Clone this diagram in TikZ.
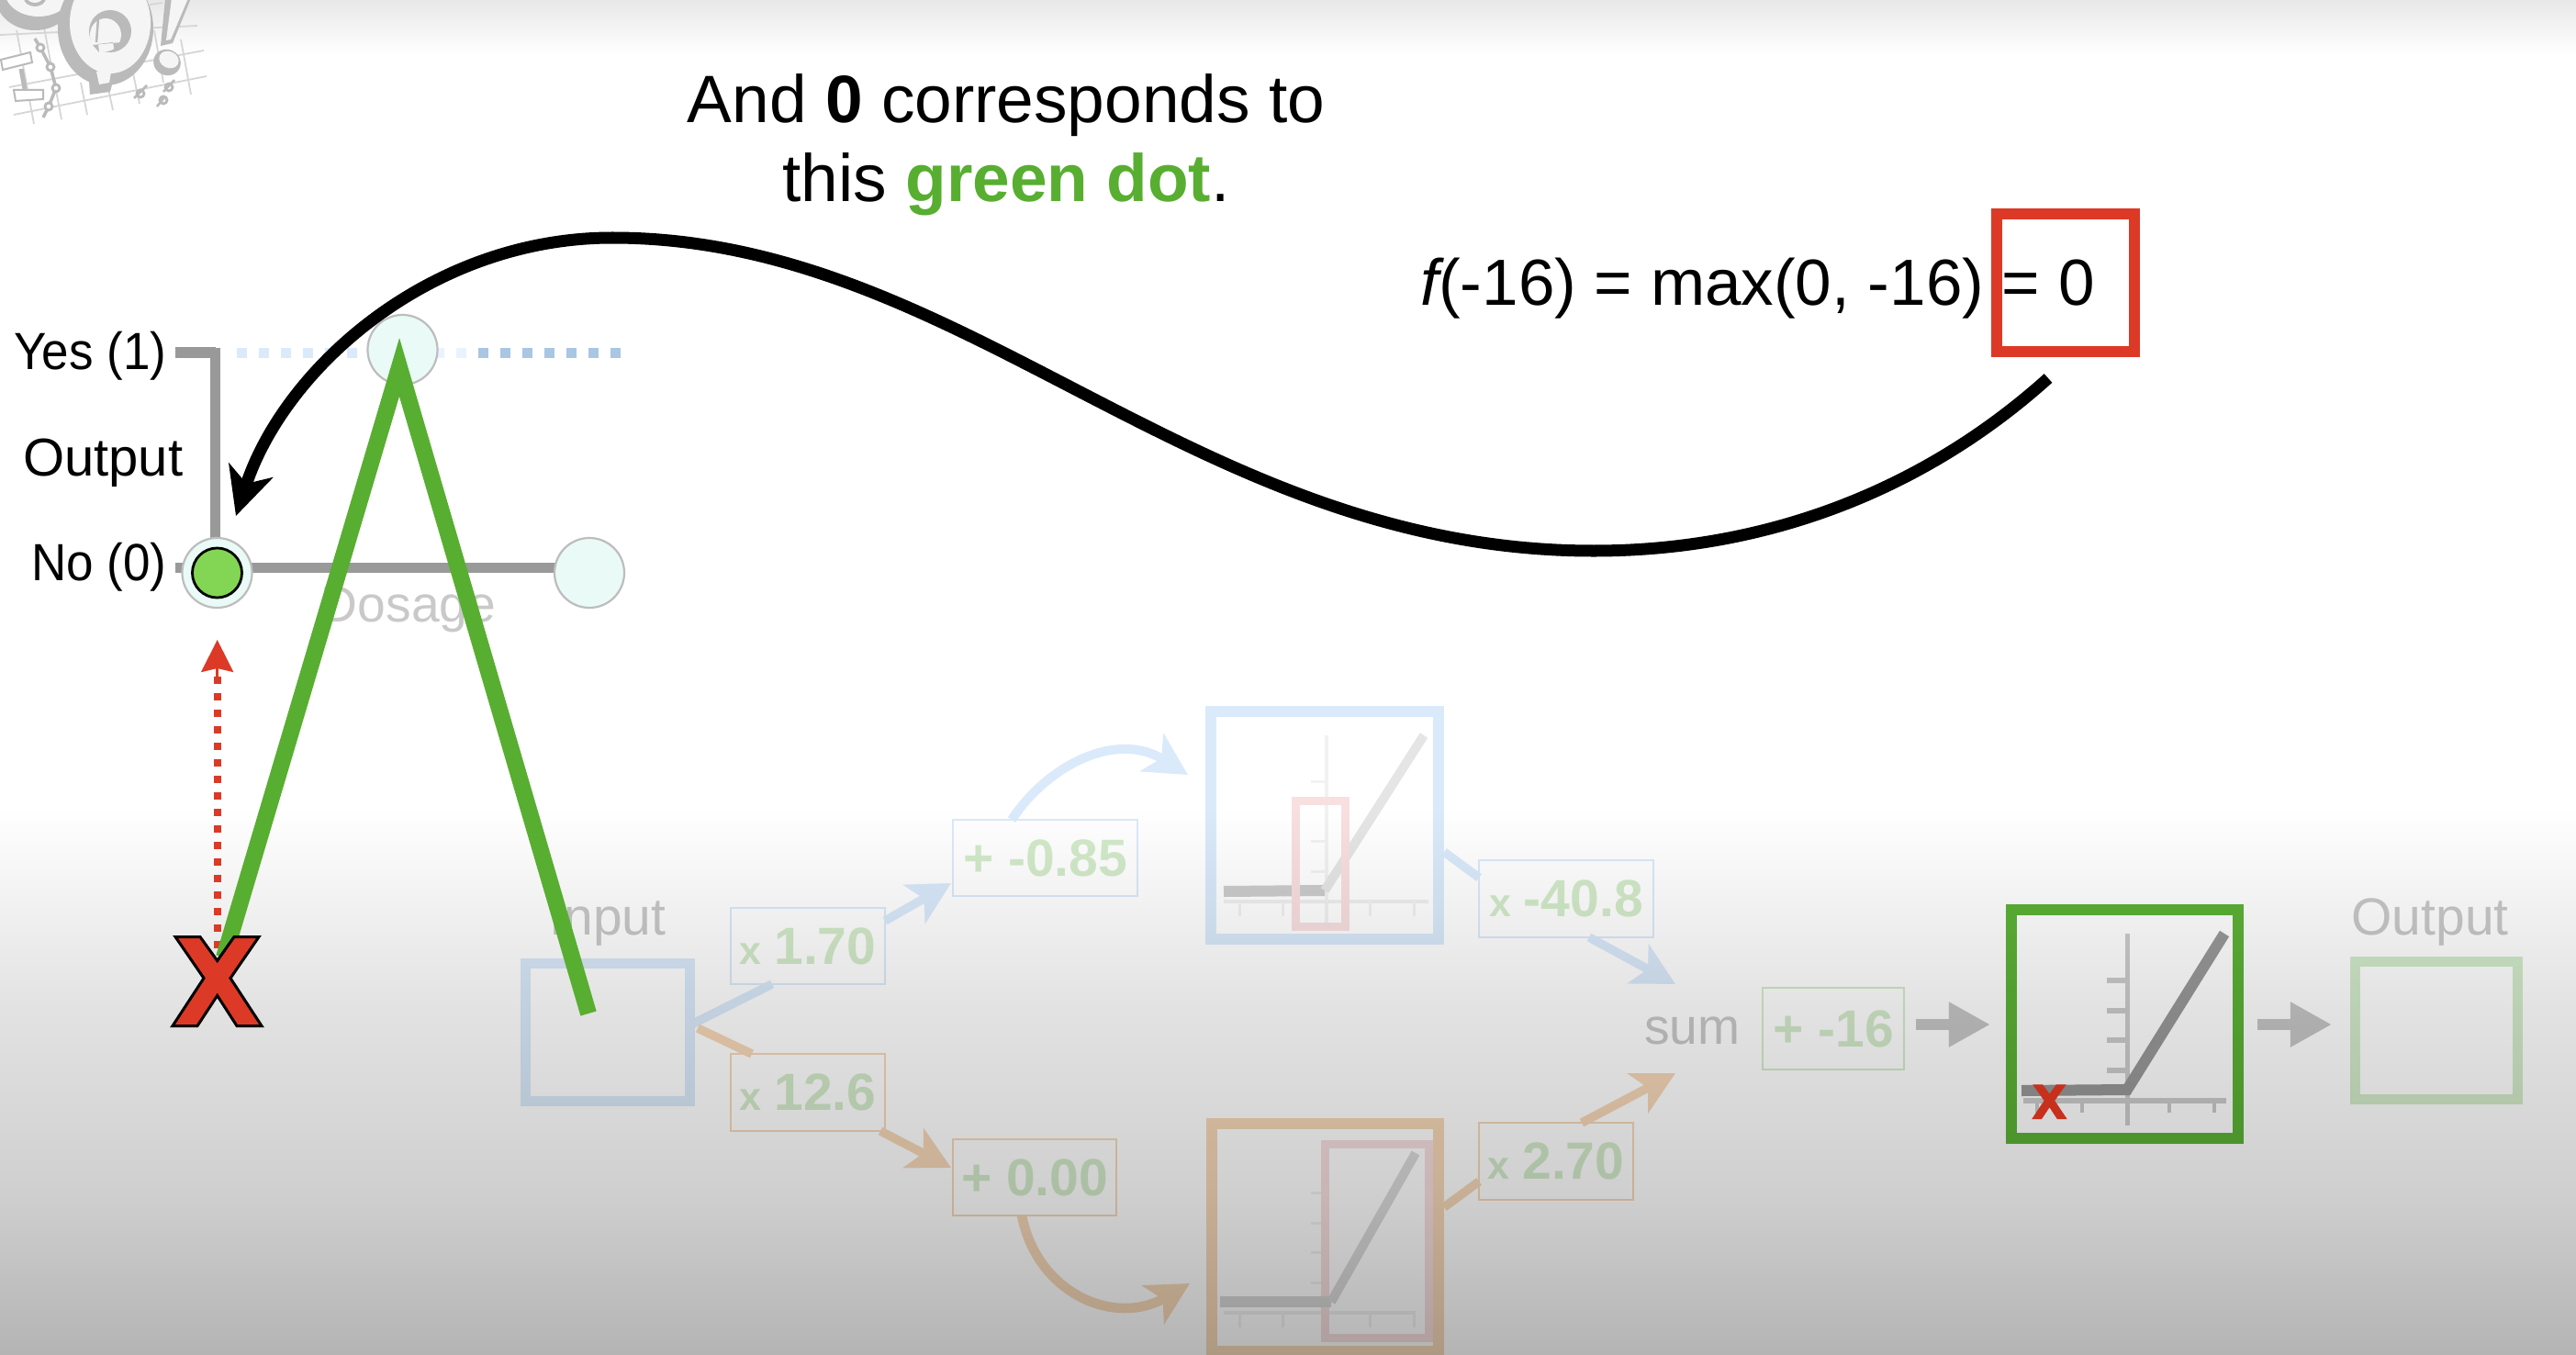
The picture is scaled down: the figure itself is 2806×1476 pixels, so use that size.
\documentclass[tikz,border=0pt]{standalone}
\usepackage{fontspec}
\setmainfont{Liberation Sans}
\usetikzlibrary{arrows.meta,calc,shapes.geometric}
\newcommand\sz[1]{\fontsize{#1}{#1}\selectfont}
\definecolor{fb}{HTML}{DAEAFB}
\definecolor{fo}{HTML}{F6D8B8}
\definecolor{fg}{HTML}{D3EBCA}
\definecolor{ft}{HTML}{C9C9C9}
\definecolor{fp}{HTML}{F8DFE0}
\definecolor{reda}{HTML}{DC3A26}
\definecolor{redb}{HTML}{C8301E}
\definecolor{gline}{HTML}{58AE30}
\definecolor{gbox}{HTML}{5CB236}
\definecolor{gdot}{HTML}{83D653}
\definecolor{axisg}{HTML}{999999}
\definecolor{circf}{HTML}{E9FAF7}
\definecolor{logo}{HTML}{BABABA}
\definecolor{logol}{HTML}{D6D6D6}
\definecolor{sa}{HTML}{E2E2E2}
\definecolor{sb}{HTML}{CFCFCF}
\definecolor{sc}{HTML}{B4B4B4}
\definecolor{ta}{HTML}{E8E8E8}
\definecolor{sbar}{HTML}{C6C6C6}
\definecolor{dotb}{HTML}{A9C6E3}
\pgfdeclareverticalshading{bgfade}{100bp}{color(0bp)=(sc); color(25bp)=(sc); color(39.8bp)=(sb); color(56.5bp)=(sa); color(75bp)=(white); color(100bp)=(white)}
\pgfdeclareverticalshading{topfade}{100bp}{color(0bp)=(white); color(25bp)=(white); color(75bp)=(ta); color(100bp)=(ta)}
\tikzset{
  frame/.style={draw=#1,line width=1.15mm,inner sep=0pt,outer sep=0pt,fill=none},
  tbox/.style={draw=#1,line width=.2mm,inner sep=0pt,outer sep=0pt,text=fg,font=\sz{16.2}\bfseries},
  flabel/.style={text=ft,font=\sz{16.2},anchor=base,inner sep=0pt},
  dlabel/.style={text=black,font=\sz{16.2},inner sep=0pt},
  flow/.style={draw=#1,line width=.95mm,-{Stealth[length=4.6mm,width=4.8mm,inset=1.2mm]}},
  flowplain/.style={draw=#1,line width=.95mm},
  grayarrow/.style={draw=sbar,line width=1.2mm,-{Triangle[length=4.5mm,width=4.6mm]}},
  ramp/.style={line width=1.2mm,miter limit=10},
  circ/.style={circle,fill=circf,draw=black!26,line width=.22mm,minimum size=7.6mm,inner sep=0pt},
}
\newcommand\xsz[1]{{\sz{12.2}x}\hspace{.24em}#1}
\begin{document}
\begin{tikzpicture}[x=0.01cm,y=-0.01cm,line join=miter]
\useasboundingbox (0,0) rectangle (2806,1476);
\fill[white] (0,0) rectangle (2806,1476);
\shade[shading=topfade] (0,0) rectangle (2806,60);

% ---------- logo
\begin{scope}
\foreach \a/\b/\c/\d in {15/125/225/83, 10/95/222/55, 0/38/215/28, 163/5/177/3,
   18/33/37/135, 48/30/67/130, 88/90/95/125, 118/97/123/120, 145/80/152/113, 168/33/178/90, 197/43/208/103}
  \draw[logol,line width=.18mm] (\a,\b) -- (\c,\d);
\fill[logo] (38,-4) ellipse (43 and 37);
\fill[white!96!black] (42,-10) ellipse (37 and 28);
\fill[logo] (38,-2) ellipse (12 and 9);
\fill[white!96!black] (38,-4) ellipse (9 and 7);
\fill[logo] (115,31) ellipse (52 and 62);
\fill[logo] (97,88) -- (98,103) -- (120,100) -- (125,80) -- cycle;
\fill[white!96!black] (120,25) ellipse (44 and 55);
\fill[white!96!black] (105,78) -- (108,92) -- (119,90) -- (122,73) -- cycle;
\fill[logo] (120,34) ellipse (23 and 23);
\fill[white!96!black] (115,38) ellipse (17 and 18);
\fill[logo] (101,49) -- (108,57) -- (107,48) -- (123,46) -- (125,57) -- (133,46) -- cycle;
\draw[logo,line width=.25mm] (107,20) -- (105,46);
\fill[logo] (180,-2) -- (208,-2) -- (188,47) -- (175,50) -- cycle;
\fill[white!96!black] (187,-2) -- (205,-2) -- (186,43) -- (181,44) -- cycle;
\fill[logo,rotate around={-25:(182,68)}] (182,68) ellipse (15 and 14);
\fill[white!96!black,rotate around={-25:(184,65)}] (184,65) ellipse (11 and 9);
\draw[logo,line width=.2mm,fill=white] (1,65) -- (33,57) -- (35,68) -- (3,76) -- cycle;
\draw[logo,line width=.2mm,fill=white] (15,98) -- (47,98) -- (47,108) -- (17,110) -- cycle;
\draw[logo,line width=.5mm] (23,75) -- (27,97);
\draw[logo,line width=.35mm] (38,42) -- (44,52) -- (55,73) -- (61,96) -- (53,116) -- (47,128);
\foreach \p/\q in {44/52,55/73,61/96,53/116,153/102,184/95,178/109}
  \draw[logo,line width=.28mm,fill=white] (\p,\q) circle (4);
\draw[logo,line width=.25mm] (146,107) -- (160,93);
\draw[logo,line width=.25mm] (178,100) -- (190,87);
\draw[logo,line width=.25mm] (171,116) -- (180,105);
\end{scope}

% ---------- faded network
\node[frame=fb,minimum width=17.85mm,minimum height=15mm] (inbox) at (662,1124.5) {};
\node[flabel] (inlabel) at (662,1018) {Input};
\node[flabel] (outlabel) at (2647,1018) {Output};
\node[flabel,font=\sz{15.7}] (sumlabel) at (1843.5,1137) {sum};
\node[flabel,font=\sz{15.7}] (doslabel) at (445,677) {Dosage};

\node[tbox=fb,minimum width=16.8mm,minimum height=8.3mm] (a1) at (880,1030.5) {\xsz{1.70}};
\node[tbox=fo,minimum width=16.8mm,minimum height=8.4mm] (a2) at (880,1190) {\xsz{12.6}};
\node[tbox=fb,minimum width=20.1mm,minimum height=8.3mm] (b1) at (1138.5,934.5) {+ -0.85};
\node[tbox=fo,minimum width=17.8mm,minimum height=8.3mm] (b2) at (1127,1282.5) {+ 0.00};
\node[tbox=fb,minimum width=19mm,minimum height=8.4mm] (c1) at (1706,979) {\xsz{-40.8}};
\node[tbox=fo,minimum width=16.7mm,minimum height=8.3mm] (c2) at (1695,1265) {\xsz{2.70}};
\node[tbox=fg,minimum width=15.4mm,minimum height=8.9mm] (sumbox) at (1997,1120.5) {+ -16};

\node[frame=fb,minimum width=24.8mm,minimum height=24.8mm] (actb) at (1443,899) {};
\node[frame=fo,minimum width=24.7mm,minimum height=24.8mm] (acto) at (1443.5,1348) {};
\node[frame=fg,minimum width=17.7mm,minimum height=15mm] (outbox) at (2654,1122.5) {};

% connectors
\coordinate (i1) at (753,1116); \coordinate (a1in) at (841,1072);
\coordinate (i2) at (760,1120); \coordinate (a2in) at (819,1148);
\coordinate (a1o) at (964,1003); \coordinate (b1in) at (1036,962);
\coordinate (a2o) at (959,1232); \coordinate (b2in) at (1036,1272);
\coordinate (b1o) at (1102,893); \coordinate (actbin) at (1294,844);
\coordinate (b2o) at (1113,1324); \coordinate (actoin) at (1296,1398);
\coordinate (actbo) at (1573,928); \coordinate (c1in) at (1611,956);
\coordinate (actoo) at (1573,1315); \coordinate (c2in) at (1611,1287);
\coordinate (c1o) at (1731,1021); \coordinate (sum1) at (1825,1072);
\coordinate (c2o) at (1723,1223); \coordinate (sum2) at (1825,1169);
\draw[flowplain=fb] (i1) -- (a1in);
\draw[flowplain=fo] (i2) -- (a2in);
\draw[flow=fb] (a1o) -- (b1in);
\draw[flow=fo] (a2o) -- (b2in);
\draw[flow=fb,line width=1mm] (b1o) .. controls (1140,835) and (1215,795) .. (actbin);
\draw[flow=fo,line width=1.05mm] (b2o) .. controls (1130,1410) and (1215,1445) .. (actoin);
\draw[flowplain=fb] (actbo) -- (c1in);
\draw[flowplain=fo] (actoo) -- (c2in);
\draw[flow=fb] (c1o) -- (sum1);
\draw[flow=fo] (c2o) -- (sum2);

% blue plot
\draw[black!5,line width=.35mm] (1445,801) -- (1445,1006);
\draw[black!6,line width=.4mm] (1333,982) -- (1556,982);
\foreach \t in {851,916,949} \draw[black!5,line width=.3mm] (1428,\t) -- (1445,\t);
\foreach \t in {1350,1397,1492,1540} \draw[black!5,line width=.3mm] (\t,982) -- (\t,998);
\draw[ramp,black!20] (1333,971) -- (1443,970);
\draw[ramp,black!10,line width=1mm] (1443,970) -- (1551,801);
\draw[fp,line width=.9mm] (1411,872) rectangle (1465.5,1009);
% orange plot
\draw[black!5,line width=.35mm] (1445,1250) -- (1445,1455);
\draw[black!6,line width=.4mm] (1333,1430) -- (1542,1430);
\foreach \t in {1299,1332,1364,1397} \draw[black!5,line width=.3mm] (1428,\t) -- (1445,\t);
\foreach \t in {1350,1397,1492,1540} \draw[black!5,line width=.3mm] (\t,1430) -- (\t,1446);
\draw[fp,line width=.9mm] (1443,1246) rectangle (1556.5,1457);
\draw[ramp,black!15] (1329,1418) -- (1450,1418);
\draw[ramp,black!14,line width=1mm] (1450,1418) -- (1542,1256);

% green activation box
\node[frame=gbox,minimum width=24.7mm,minimum height=24.9mm] (actg) at (2314.5,1115.5) {};
\draw[black!20,line width=.5mm] (2317,1017) -- (2317,1226);
\foreach \t in {1068,1101,1133,1166} \draw[black!20,line width=.6mm] (2295,\t) -- (2317,\t);
\draw[black!20,line width=.6mm] (2204,1199) -- (2425,1199);
\foreach \t in {2219,2268,2363,2412} \draw[black!20,line width=.35mm] (\t,1199) -- (\t,1212);
\draw[ramp,black!40] (2202,1188) -- (2317,1187) -- (2423,1017);

% grey arrows
\coordinate (ya) at (0,1116);
\draw[grayarrow,shorten <=1.3mm,shorten >=2.3mm] (sumbox.east |- ya) -- (actg.west |- ya);
\draw[grayarrow,shorten <=2.1mm,shorten >=2.55mm] (actg.east |- ya) -- (outbox.west |- ya);

% darkening of the lower part
\begin{scope}[blend mode=multiply]
\shade[shading=bgfade] (0,880) rectangle (2806,1476);
\end{scope}

% small red X
\fill[redb,shift={(2213,1181)},xscale=.4,yscale=.39] (3,1) -- (30,1) -- (48.7,27) -- (67,1) -- (94,1) -- (63,46) -- (97,98) -- (70,98) -- (48.7,65) -- (27,98) -- (0,98) -- (34,46) -- cycle;

% ---------- graph at left
\draw[axisg,line width=1.1mm] (190.5,384) -- (234.6,384);
\draw[axisg,line width=1.1mm] (234.6,378.5) -- (234.6,600);
\draw[axisg,line width=1.1mm] (190.5,618) -- (610,618);
\foreach \k in {1,...,6} \fill[fb] ({239+24*\k-5.5},378.5) rectangle ++(11,11);
\foreach \k in {8,9} \fill[fb!60] ({478+24*(\k-8)-5.5},378.5) rectangle ++(11,11);
\foreach \k in {0,...,6} \fill[dotb] ({526+24*\k-5.5},378.5) rectangle ++(11,11);
\node[circ] (c0) at (438.5,381) {};
\node[circ] (c1b) at (236.5,624) {};
\node[circ] (c2b) at (642,624) {};
\node[circle,fill=gdot,draw=black,line width=.28mm,minimum size=5.4mm,inner sep=0pt] (dot) at (236.5,624) {};

\node[dlabel,anchor=base east] (yes) at (182,402) {\scalebox{.93}[1]{Yes (1)}};
\node[dlabel,anchor=base east,font=\sz{16.5}] (outy) at (200,518) {Output};
\node[dlabel,anchor=base east] (no) at (182,632) {\scalebox{.93}[1]{No (0)}};

% red dotted arrow
\foreach \k in {0,...,16} \fill[reda] (232.5,{741+18*\k-4.2}) rectangle ++(8.5,8.4);
\coordinate (rs) at (236.7,737); \coordinate (rt) at (236.7,697);
\draw[reda,line width=.3mm,-{Stealth[length=3.5mm,width=3.5mm,inset=.4mm,reda]}] (rs) -- (rt);

% green peak
\coordinate (gl) at (244,1043); \coordinate (gt) at (435,400); \coordinate (gr) at (641,1104);
\draw[gline,line width=1.8mm,miter limit=20] (gl) -- (gt) -- (gr);

% big red X
\draw[black,fill=reda,line width=.3mm,shift={(188,1019.5)}] (3,1) -- (30,1) -- (48.7,27) -- (67,1) -- (94,1) -- (63,46) -- (97,98) -- (70,98) -- (48.7,65) -- (27,98) -- (0,98) -- (34,46) -- cycle;

% ---------- texts at top
\node[anchor=base,inner sep=0pt,font=\sz{20.77}] (t1) at (1096,134) {And \textbf{0} corresponds to};
\node[anchor=base,inner sep=0pt,font=\sz{20.77}] (t2) at (1096,220) {this \textcolor{gline}{\textbf{green dot}}.};
\node[anchor=base west,inner sep=0pt,font=\sz{20.2}] (formula) at (1547,332) {\textit{f}\kern-.09em(-16) = max(0, -16) = 0};
\node[draw=reda,line width=1.15mm,minimum width=15mm,minimum height=15mm,inner sep=0pt,outer sep=0pt] (redbox) at (2250,308) {};

% ---------- curved arrow
\coordinate (cs) at (2231,412);
\coordinate (ct) at (257,562);
\draw[black,line width=1.3mm,-{Stealth[length=5.2mm,width=5mm,inset=1.5mm]}] (cs) .. controls (2100,530) and (1930,600) .. (1736,600) .. controls (1300,600) and (1050,259) .. (667,259) .. controls (470,259) and (310,400) .. (ct);
\end{tikzpicture}
\end{document}
